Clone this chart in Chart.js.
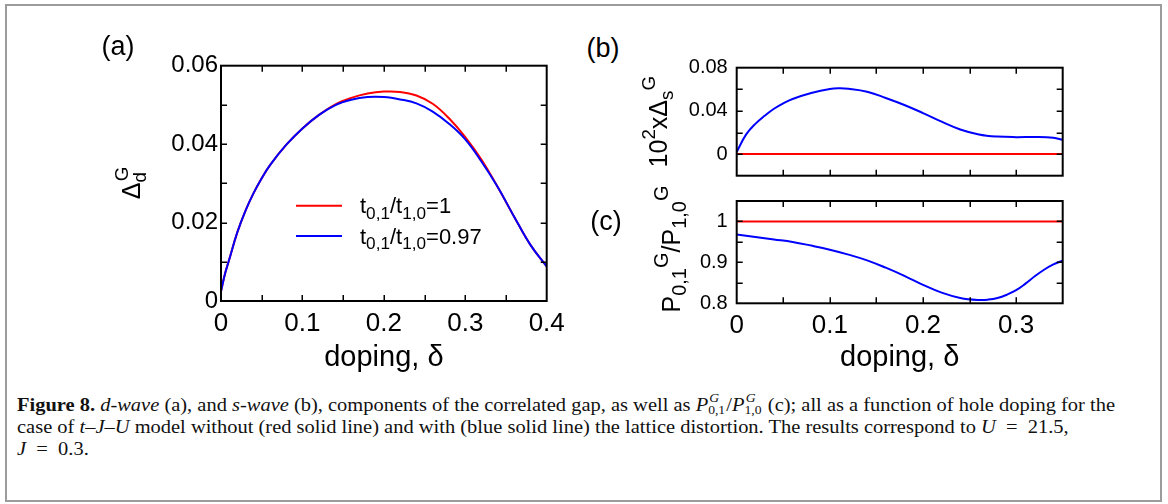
<!DOCTYPE html>
<html><head><meta charset="utf-8">
<script src="https://cdn.jsdelivr.net/npm/chart.js@4.4.1/dist/chart.umd.min.js"></script>
<style>
html,body{margin:0;padding:0;background:#fff;}
body{width:1168px;height:504px;position:relative;overflow:hidden;font-family:"Liberation Sans",Arial,sans-serif;}
#frame{position:absolute;left:5px;top:4px;width:1157px;height:498px;border:2px solid #9c9c9c;box-sizing:border-box;}
.cv{position:absolute;}
.plabel{position:absolute;font-size:27px;line-height:1;transform:translate(-50%,-50%);color:#000;}
.cap{position:absolute;left:17px;font-family:"Liberation Serif","Times New Roman",serif;font-size:18px;white-space:nowrap;transform-origin:0 50%;line-height:20px;color:#111;}
.ss{display:inline-block;position:relative;width:15px;height:10px;margin-right:1px;}
.ss .sp{position:absolute;left:1px;top:-9px;font-size:12px;font-style:italic;line-height:12px;}
.ss .sb{position:absolute;left:0;top:3px;font-size:12px;line-height:12px;}
</style></head>
<body>
<div id="frame"></div>
<canvas id="ca" class="cv" width="480" height="350" style="left:95px;top:30px;width:480px;height:350px"></canvas>
<canvas id="cb" class="cv" width="470" height="170" style="left:630px;top:35px;width:470px;height:170px"></canvas>
<canvas id="cc" class="cv" width="470" height="200" style="left:630px;top:180px;width:470px;height:200px"></canvas>
<div class="plabel" style="left:118px;top:46px">(a)</div>
<div class="plabel" style="left:603px;top:48px">(b)</div>
<div class="plabel" style="left:606px;top:221px">(c)</div>
<div class="cap" id="l1" style="top:395px"><b>Figure 8.</b> <i>d-wave</i> (a), and <i>s-wave</i> (b), components of the correlated gap, as well as <i>P</i><span class="ss"><span class="sp">G</span><span class="sb">0,1</span></span>/<i>P</i><span class="ss"><span class="sp">G</span><span class="sb">1,0</span></span> (c); all as a function of hole doping for the</div>
<div class="cap" id="l2" style="top:417px">case of <i>t</i>–<i>J</i>–<i>U</i> model without (red solid line) and with (blue solid line) the lattice distortion. The results correspond to <i>U</i>&ensp;=&ensp;21.5,</div>
<div class="cap" id="l3" style="top:439px"><i>J</i>&ensp;=&ensp;0.3.</div>
<script>
// ---------- data ----------
const dopingA   = [0,0.005,0.01,0.02,0.03,0.04,0.05,0.06,0.08,0.10,0.12,0.14,0.16,0.18,0.20,0.22,0.24,0.26,0.28,0.30,0.32,0.34,0.36,0.38,0.40];
const gapDRed   = [0.0025,0.0070,0.0105,0.0175,0.0230,0.0275,0.0313,0.0346,0.0398,0.0440,0.0474,0.0501,0.0518,0.0529,0.0534,0.0533,0.0524,0.0503,0.0466,0.0418,0.0360,0.0290,0.0215,0.0143,0.0088];
const gapDBlue  = [0.0025,0.0070,0.0105,0.0175,0.0230,0.0275,0.0313,0.0346,0.0398,0.0440,0.0474,0.0499,0.0513,0.0520,0.0520,0.0514,0.0504,0.0483,0.0452,0.0412,0.0355,0.0290,0.0215,0.0143,0.0088];

const dopingB   = [0,0.01,0.02,0.03,0.04,0.05,0.06,0.08,0.10,0.11,0.12,0.14,0.16,0.18,0.20,0.22,0.24,0.26,0.28,0.30,0.32,0.34,0.35];
const gapSRed   = [0,0,0,0,0,0,0,0,0,0,0,0,0,0,0,0,0,0,0,0,0,0,0];
const gapSBlue  = [0.0020,0.0180,0.0280,0.0355,0.0420,0.0470,0.0510,0.0565,0.0603,0.0609,0.0605,0.0578,0.0520,0.0455,0.0380,0.0300,0.0228,0.0182,0.0162,0.0157,0.0159,0.0152,0.0132];

const dopingC   = [0,0.02,0.04,0.06,0.08,0.10,0.12,0.14,0.16,0.18,0.20,0.22,0.24,0.26,0.27,0.28,0.29,0.30,0.31,0.32,0.33,0.34,0.35];
const ratioRed  = [1,1,1,1,1,1,1,1,1,1,1,1,1,1,1,1,1,1,1,1,1,1,1];
const ratioBlue = [0.968,0.962,0.956,0.950,0.941,0.931,0.919,0.905,0.887,0.867,0.845,0.826,0.813,0.808,0.809,0.813,0.821,0.832,0.848,0.866,0.882,0.895,0.904];

const aXLabels = [0,0.1,0.2,0.3,0.4];
const aYLabels = [0,0.02,0.04,0.06];
const bYLabels = [0,0.04,0.08];
const cXLabels = [0,0.1,0.2,0.3];
const cYLabels = [0.8,0.9,1];
const legendLabels = [
  [['t','n'],['0,1','sub'],['/t','n'],['1,0','sub'],['=1','n']],
  [['t','n'],['0,1','sub'],['/t','n'],['1,0','sub'],['=0.97','n']]
];
const RED = '#ff0000', BLUE = '#0000ff';
const FONT = '"Liberation Sans", Arial, sans-serif';

// ---------- helpers ----------
function pts(xs, ys){ return xs.map((x,i)=>({x:x,y:ys[i]})); }
function labeler(list){
  return function(v){
    const m = list.find(t=>Math.abs(t-v)<1e-9);
    return m===undefined ? '' : String(m);
  };
}
function layoutRich(ctx, parts, size, scale){
  let cx=0, lastStart=0, out=[];
  parts.forEach(p=>{
    let s=size, dy=0, stack=false;
    if(p[1]==='sub'){ s=size*scale; dy=size*0.25; }
    if(p[1]==='sup'){ s=size*scale; dy=-size*0.48; }
    if(p[1]==='supstack'){ s=size*scale; dy=-size*0.5; stack=true; }
    ctx.font = s+'px '+FONT;
    const w = ctx.measureText(p[0]).width;
    if(stack){
      out.push({t:p[0], x:lastStart+size*0.05, dy:dy, s:s});
      cx = Math.max(cx, lastStart+size*0.05+w);
    } else {
      out.push({t:p[0], x:cx, dy:dy, s:s});
      lastStart=cx; cx+=w;
    }
  });
  return {items:out, width:cx};
}
function drawRich(ctx, parts, x, y, size, scale, rot, align){
  ctx.save();
  ctx.translate(x,y);
  ctx.rotate(rot);
  const L = layoutRich(ctx, parts, size, scale);
  const x0 = align==='center' ? -L.width/2 : 0;
  ctx.fillStyle = '#000';
  ctx.textBaseline = 'alphabetic';
  ctx.textAlign = 'left';
  L.items.forEach(it=>{
    ctx.font = it.s+'px '+FONT;
    ctx.fillText(it.t, x0+it.x, it.dy);
  });
  ctx.restore();
}

const framePlugin = {
  id:'frameTicks',
  afterDraw(chart, args, opts){
    const ctx = chart.ctx, a = chart.chartArea;
    const xs = chart.scales.x, ys = chart.scales.y;
    const L = 6;
    ctx.save();
    ctx.strokeStyle = '#000';
    ctx.lineWidth = 1.5;
    ctx.beginPath();
    xs.ticks.forEach(t=>{
      const px = Math.round(xs.getPixelForValue(t.value))+0.25;
      if(px<=a.left+1 || px>=a.right-1) return;
      ctx.moveTo(px,a.bottom); ctx.lineTo(px,a.bottom-L);
      ctx.moveTo(px,a.top); ctx.lineTo(px,a.top+L);
    });
    ys.ticks.forEach(t=>{
      const py = Math.round(ys.getPixelForValue(t.value))+0.25;
      if(py<=a.top+1 || py>=a.bottom-1) return;
      ctx.moveTo(a.left,py); ctx.lineTo(a.left+L,py);
      ctx.moveTo(a.right,py); ctx.lineTo(a.right-L,py);
    });
    ctx.stroke();
    ctx.lineWidth = 2;
    ctx.strokeRect(a.left, a.top, a.right-a.left, a.bottom-a.top);
    ctx.restore();
    if(opts.yTitle){
      const t = opts.yTitle;
      drawRich(ctx, t.parts, t.x, t.y, t.size, t.scale, -Math.PI/2, 'center');
    }
    if(opts.legend){
      const lg = opts.legend;
      chart.data.datasets.forEach((ds)=>{
        const i = ds.legendIndex;
        if(i===undefined) return;
        const y = lg.y + i*lg.gap;
        ctx.save();
        ctx.strokeStyle = ds.borderColor; ctx.lineWidth = 2;
        ctx.beginPath(); ctx.moveTo(lg.x1,y); ctx.lineTo(lg.x2,y); ctx.stroke();
        ctx.restore();
        drawRich(ctx, legendLabels[i], lg.tx, y+lg.size*0.35, lg.size, 0.78, 0, 'left');
      });
    }
  }
};

function lineDs(data, color, order, legendIndex){
  return {data:data, borderColor:color, backgroundColor:color, borderWidth:2, pointRadius:0,
          fill:false, tension:0.4, order:order, legendIndex:legendIndex};
}

function makeChart(id, cfg){
  return new Chart(document.getElementById(id), {
    type:'line',
    data:{datasets:cfg.datasets},
    plugins:[framePlugin],
    options:{
      responsive:false, animation:false, devicePixelRatio:1,
      layout:{autoPadding:false, padding:cfg.padding},
      plugins:{legend:{display:false}, tooltip:{enabled:false}, frameTicks:cfg.extra},
      scales:{
        x:{type:'linear', min:cfg.x.min, max:cfg.x.max,
           grid:{display:false, drawTicks:false}, border:{display:false},
           ticks:{display:cfg.x.labels!==null, stepSize:cfg.x.step, autoSkip:false, maxRotation:0,
                  padding:cfg.x.pad, color:'#000', font:{family:FONT, size:26},
                  callback: cfg.x.labels ? labeler(cfg.x.labels) : ()=>''},
           title:{display:!!cfg.x.title, text:cfg.x.title||'', color:'#000', font:{family:FONT,size:29}, padding:{top:0,bottom:cfg.x.tpad}},
           afterFit:(s)=>{ s.height = cfg.x.h; }},
        y:{type:'linear', min:cfg.y.min, max:cfg.y.max,
           grid:{display:false, drawTicks:false}, border:{display:false},
           ticks:{stepSize:cfg.y.step, autoSkip:false, padding:cfg.y.pad, color:'#000', font:{family:FONT,size:cfg.y.fs},
                  callback: labeler(cfg.y.labels)},
           afterFit:(s)=>{ s.width = cfg.y.w; }}
      }
    }
  });
}

// Panel (a)
makeChart('ca', {
  datasets:[lineDs(pts(dopingA,gapDBlue),BLUE,0,1), lineDs(pts(dopingA,gapDRed),RED,1,0)],
  padding:{left:0, top:35.7, right:28.3, bottom:4.5},
  x:{min:0,max:0.4,step:0.05,labels:aXLabels,pad:7.6,title:'doping, δ',tpad:0,h:74.5},
  y:{min:0,max:0.06,step:0.01,labels:aYLabels,pad:3,fs:24,w:126},
  extra:{yTitle:{parts:[['Δ','n'],['d','sub'],['G','supstack']], x:45, y:153, size:25, scale:0.75},
         legend:{x1:201, x2:247, y:175.7, gap:30.3, tx:265, size:22}}
});
// Panel (b)
makeChart('cb', {
  datasets:[lineDs(pts(dopingB,gapSBlue),BLUE,0), lineDs(pts(dopingB,gapSRed),RED,1)],
  padding:{left:0, top:32.7, right:37.3, bottom:0},
  x:{min:0,max:0.35,step:0.05,labels:null,pad:0,title:null,tpad:0,h:29.3},
  y:{min:-0.02,max:0.08,step:0.02,labels:bYLabels,pad:9,fs:20,w:106.7},
  extra:{yTitle:{parts:[['10','n'],['2','sup'],['xΔ','n'],['s','sub'],['G','sup']], x:37, y:86.7, size:25, scale:0.75}}
});
// Panel (c)
makeChart('cc', {
  datasets:[lineDs(pts(dopingC,ratioBlue),BLUE,0), lineDs(pts(dopingC,ratioRed),RED,1)],
  padding:{left:0, top:15, right:37.3, bottom:4.5},
  x:{min:0,max:0.35,step:0.05,labels:cXLabels,pad:7.4,title:'doping, δ',tpad:0,h:72.2},
  y:{min:0.8,max:1.05,step:0.05,labels:cYLabels,pad:9,fs:20,w:106.7},
  extra:{yTitle:{parts:[['P','n'],['0,1','sub'],['G','sup'],['/P','n'],['1,0','sub'],['G','sup']], x:50, y:69, size:25, scale:0.8}}
});

// caption condensing to match the original typeset width
(function(){
  const l1 = document.getElementById('l1');
  const k = 1098 / l1.getBoundingClientRect().width;
  ['l1','l2','l3'].forEach(id=>{ document.getElementById(id).style.transform='scaleX('+k+')'; });
})();
</script>
</body></html>
